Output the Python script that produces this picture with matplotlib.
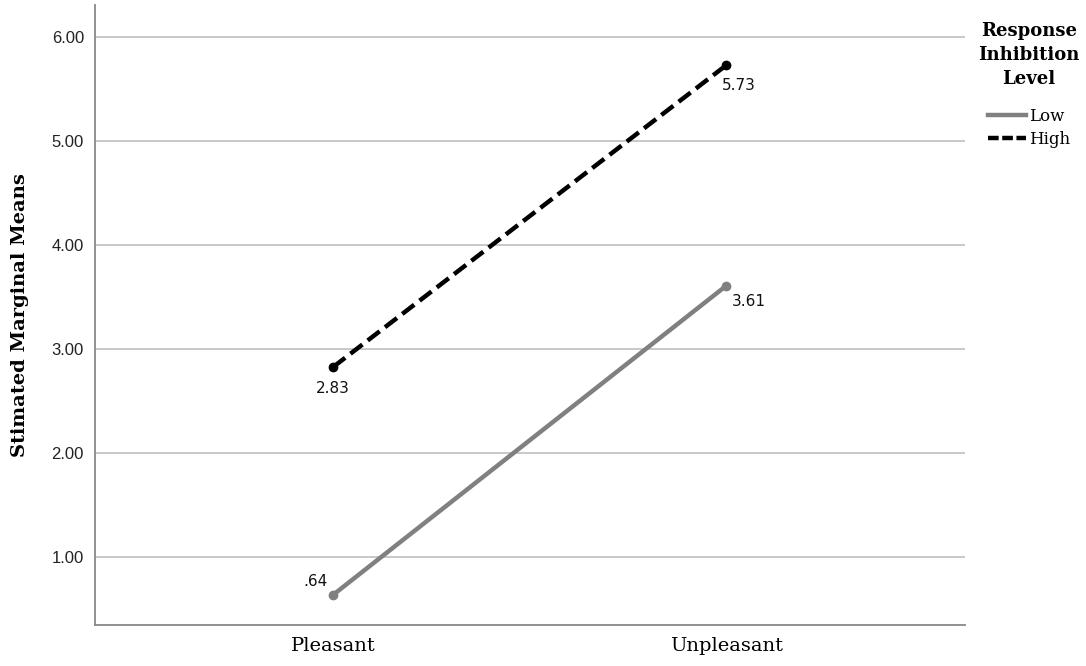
import matplotlib
matplotlib.use("Agg")
import matplotlib.pyplot as plt
from matplotlib.lines import Line2D

categories = ["Pleasant", "Unpleasant"]
low_values = [0.64, 3.61]
high_values = [2.83, 5.73]
low_labels = [".64", "3.61"]
high_labels = ["2.83", "5.73"]
yticks = [1.0, 2.0, 3.0, 4.0, 5.0, 6.0]

SERIF = "DejaVu Serif"

fig = plt.figure(figsize=(10.86, 6.66), dpi=100)
ax = fig.add_axes([0.0875, 0.0616, 0.8011, 0.9309])

x = list(range(len(categories)))
ax.plot(x, low_values, color="#808080", lw=3.2, marker="o", ms=6,
        solid_capstyle="butt", zorder=3)
ax.plot(x, high_values, color="black", lw=3.2, ls=(0, (3.4, 1.5)), marker="o",
        ms=6, zorder=3)

ax.set_xlim(-0.606, 1.608)
ax.set_ylim(0.35, 6.31)
ax.set_yticks(yticks)
ax.set_yticklabels([f"{v:.2f}" for v in yticks], fontsize=12,
                   family="Liberation Sans", color="#222222")
ax.set_xticks(x)
ax.set_xticklabels(categories, fontsize=14, family=SERIF)
ax.tick_params(axis="y", length=0, pad=8)
ax.tick_params(axis="x", length=0, pad=9)
ax.yaxis.grid(True, color="#c4c4c4", lw=1.3)
ax.set_axisbelow(True)
for s in ["top", "right"]:
    ax.spines[s].set_visible(False)
for s in ["left", "bottom"]:
    ax.spines[s].set_color("#888888")
    ax.spines[s].set_linewidth(1.3)

ax.set_ylabel("Stimated Marginal Means", fontsize=14, family=SERIF,
              fontweight="bold", labelpad=16)

lab_kw = dict(fontsize=11, family="DejaVu Sans", color="#111111")
ax.annotate(high_labels[0], (x[0], high_values[0]), xytext=(0, -10),
            textcoords="offset points", ha="center", va="top", **lab_kw)
ax.annotate(high_labels[1], (x[1], high_values[1]), xytext=(-3, -9),
            textcoords="offset points", ha="left", va="top", **lab_kw)
ax.annotate(low_labels[1], (x[1], low_values[1]), xytext=(4, -6),
            textcoords="offset points", ha="left", va="top", **lab_kw)
ax.annotate(low_labels[0], (x[0], low_values[0]), xytext=(-4, 4),
            textcoords="offset points", ha="right", va="bottom", **lab_kw)

handles = [Line2D([0], [0], color="#808080", lw=3.2),
           Line2D([0], [0], color="black", lw=3.2, ls=(0, (2.4, 0.8)))]
leg = fig.legend(handles, ["Low", "High"], loc="upper center",
                 bbox_to_anchor=(0.9475, 0.985), frameon=False,
                 title="Response\nInhibition\nLevel", handlelength=2.3,
                 handletextpad=0.2, labelspacing=0.35, borderpad=0.2,
                 prop={"family": SERIF, "size": 12})
leg.get_title().set_fontproperties({"family": SERIF, "size": 13,
                                    "weight": "bold"})
leg.get_title().set_multialignment("center")
leg.get_title().set_linespacing(1.45)
leg._legend_box.sep = 14

fig.savefig("out.png", dpi=100)
